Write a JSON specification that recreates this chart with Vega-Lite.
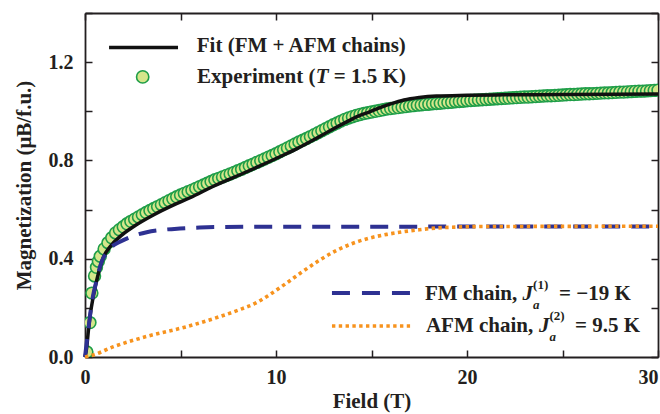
{
  "$schema": "https://vega.github.io/schema/vega-lite/v6.json",
  "width": 573,
  "height": 344,
  "autosize": {"type": "none"},
  "padding": {"left": 85, "top": 13, "right": 2, "bottom": 57},
  "background": "white",
  "config": {
    "view": {"stroke": null},
    "text": {"font": "Liberation Serif", "fontWeight": "bold", "color": "#231f20"}
  },
  "datasets": {
    "exp": [
      {"field": 0.1, "m": 0.02}, {"field": 0.26, "m": 0.14}, {"field": 0.36, "m": 0.26}, {"field": 0.5, "m": 0.33}, {"field": 0.6, "m": 0.365}, {"field": 0.7, "m": 0.39},
      {"field": 0.8, "m": 0.41}, {"field": 1.0, "m": 0.44}, {"field": 1.2, "m": 0.465}, {"field": 1.4, "m": 0.485}, {"field": 1.6, "m": 0.505}, {"field": 1.8, "m": 0.518},
      {"field": 2.0, "m": 0.53}, {"field": 2.2, "m": 0.542}, {"field": 2.4, "m": 0.552}, {"field": 2.6, "m": 0.561}, {"field": 2.8, "m": 0.57}, {"field": 3.0, "m": 0.579},
      {"field": 3.2, "m": 0.588}, {"field": 3.4, "m": 0.596}, {"field": 3.6, "m": 0.604}, {"field": 3.8, "m": 0.612}, {"field": 4.0, "m": 0.62}, {"field": 4.2, "m": 0.628},
      {"field": 4.4, "m": 0.636}, {"field": 4.6, "m": 0.644}, {"field": 4.8, "m": 0.652}, {"field": 5.0, "m": 0.659}, {"field": 5.2, "m": 0.666}, {"field": 5.4, "m": 0.673},
      {"field": 5.6, "m": 0.679}, {"field": 5.8, "m": 0.686}, {"field": 6.0, "m": 0.693}, {"field": 6.2, "m": 0.7}, {"field": 6.4, "m": 0.707}, {"field": 6.6, "m": 0.714},
      {"field": 6.8, "m": 0.721}, {"field": 7.0, "m": 0.727}, {"field": 7.2, "m": 0.733}, {"field": 7.4, "m": 0.739}, {"field": 7.6, "m": 0.745}, {"field": 7.8, "m": 0.751},
      {"field": 8.0, "m": 0.758}, {"field": 8.2, "m": 0.764}, {"field": 8.4, "m": 0.771}, {"field": 8.6, "m": 0.778}, {"field": 8.8, "m": 0.785}, {"field": 9.0, "m": 0.792},
      {"field": 9.2, "m": 0.799}, {"field": 9.4, "m": 0.806}, {"field": 9.6, "m": 0.813}, {"field": 9.8, "m": 0.82}, {"field": 10.0, "m": 0.827}, {"field": 10.2, "m": 0.835},
      {"field": 10.4, "m": 0.843}, {"field": 10.6, "m": 0.851}, {"field": 10.8, "m": 0.859}, {"field": 11.0, "m": 0.867}, {"field": 11.2, "m": 0.875}, {"field": 11.4, "m": 0.882},
      {"field": 11.6, "m": 0.889}, {"field": 11.8, "m": 0.897}, {"field": 12.0, "m": 0.905}, {"field": 12.2, "m": 0.913}, {"field": 12.4, "m": 0.921}, {"field": 12.6, "m": 0.929},
      {"field": 12.8, "m": 0.937}, {"field": 13.0, "m": 0.945}, {"field": 13.2, "m": 0.952}, {"field": 13.4, "m": 0.96}, {"field": 13.6, "m": 0.967}, {"field": 13.8, "m": 0.973},
      {"field": 14.0, "m": 0.978}, {"field": 14.2, "m": 0.983}, {"field": 14.4, "m": 0.987}, {"field": 14.6, "m": 0.991}, {"field": 14.8, "m": 0.994}, {"field": 15.0, "m": 0.997},
      {"field": 15.2, "m": 1.0}, {"field": 15.4, "m": 1.003}, {"field": 15.6, "m": 1.006}, {"field": 15.8, "m": 1.009}, {"field": 16.0, "m": 1.011}, {"field": 16.2, "m": 1.013},
      {"field": 16.4, "m": 1.015}, {"field": 16.6, "m": 1.017}, {"field": 16.8, "m": 1.019}, {"field": 17.0, "m": 1.021}, {"field": 17.2, "m": 1.023}, {"field": 17.4, "m": 1.025},
      {"field": 17.6, "m": 1.026}, {"field": 17.8, "m": 1.028}, {"field": 18.0, "m": 1.029}, {"field": 18.2, "m": 1.031}, {"field": 18.4, "m": 1.032}, {"field": 18.6, "m": 1.033},
      {"field": 18.8, "m": 1.035}, {"field": 19.0, "m": 1.036}, {"field": 19.2, "m": 1.037}, {"field": 19.4, "m": 1.039}, {"field": 19.6, "m": 1.04}, {"field": 19.8, "m": 1.041},
      {"field": 20.0, "m": 1.043}, {"field": 20.2, "m": 1.044}, {"field": 20.4, "m": 1.045}, {"field": 20.6, "m": 1.046}, {"field": 20.8, "m": 1.047}, {"field": 21.0, "m": 1.048},
      {"field": 21.2, "m": 1.049}, {"field": 21.4, "m": 1.05}, {"field": 21.6, "m": 1.051}, {"field": 21.8, "m": 1.052}, {"field": 22.0, "m": 1.053}, {"field": 22.2, "m": 1.054},
      {"field": 22.4, "m": 1.055}, {"field": 22.6, "m": 1.056}, {"field": 22.8, "m": 1.057}, {"field": 23.0, "m": 1.058}, {"field": 23.2, "m": 1.058}, {"field": 23.4, "m": 1.059},
      {"field": 23.6, "m": 1.06}, {"field": 23.8, "m": 1.061}, {"field": 24.0, "m": 1.062}, {"field": 24.2, "m": 1.063}, {"field": 24.4, "m": 1.063}, {"field": 24.6, "m": 1.064},
      {"field": 24.8, "m": 1.065}, {"field": 25.0, "m": 1.066}, {"field": 25.2, "m": 1.067}, {"field": 25.4, "m": 1.068}, {"field": 25.6, "m": 1.068}, {"field": 25.8, "m": 1.069},
      {"field": 26.0, "m": 1.07}, {"field": 26.2, "m": 1.071}, {"field": 26.4, "m": 1.071}, {"field": 26.6, "m": 1.072}, {"field": 26.8, "m": 1.073}, {"field": 27.0, "m": 1.074},
      {"field": 27.2, "m": 1.075}, {"field": 27.4, "m": 1.075}, {"field": 27.6, "m": 1.076}, {"field": 27.8, "m": 1.077}, {"field": 28.0, "m": 1.078}, {"field": 28.2, "m": 1.078},
      {"field": 28.4, "m": 1.079}, {"field": 28.6, "m": 1.08}, {"field": 28.8, "m": 1.081}, {"field": 29.0, "m": 1.082}, {"field": 29.2, "m": 1.082}, {"field": 29.4, "m": 1.083},
      {"field": 29.6, "m": 1.084}, {"field": 29.8, "m": 1.085}, {"field": 30.0, "m": 1.086}
    ],
    "fit": [
      {"field": 0, "m": 0}, {"field": 0.09, "m": 0.04}, {"field": 0.18, "m": 0.11}, {"field": 0.26, "m": 0.164}, {"field": 0.43, "m": 0.245},
      {"field": 0.7, "m": 0.34}, {"field": 0.96, "m": 0.405}, {"field": 1.31, "m": 0.449}, {"field": 1.83, "m": 0.49}, {"field": 2.53, "m": 0.53},
      {"field": 3.58, "m": 0.578}, {"field": 4.62, "m": 0.618}, {"field": 5.5, "m": 0.648}, {"field": 6.72, "m": 0.695}, {"field": 8.47, "m": 0.754},
      {"field": 10.2, "m": 0.815}, {"field": 11.1, "m": 0.848}, {"field": 11.95, "m": 0.883}, {"field": 12.8, "m": 0.92}, {"field": 13.7, "m": 0.957},
      {"field": 14.3, "m": 0.98}, {"field": 14.9, "m": 0.998}, {"field": 15.45, "m": 1.015}, {"field": 16.0, "m": 1.03}, {"field": 16.7, "m": 1.046},
      {"field": 17.5, "m": 1.056}, {"field": 18.4, "m": 1.062}, {"field": 20, "m": 1.065}, {"field": 21.9, "m": 1.067}, {"field": 25, "m": 1.068}, {"field": 30, "m": 1.07}
    ],
    "fm": [
      {"field": 0, "m": 0}, {"field": 0.17, "m": 0.11}, {"field": 0.35, "m": 0.218}, {"field": 0.61, "m": 0.313}, {"field": 0.87, "m": 0.388},
      {"field": 1.1, "m": 0.42}, {"field": 1.31, "m": 0.442}, {"field": 1.83, "m": 0.469}, {"field": 2.5, "m": 0.492}, {"field": 3.23, "m": 0.508},
      {"field": 4.0, "m": 0.517}, {"field": 4.97, "m": 0.523}, {"field": 6, "m": 0.527}, {"field": 7, "m": 0.529}, {"field": 9, "m": 0.53}, {"field": 30, "m": 0.531}
    ],
    "afm": [
      {"field": 0, "m": 0}, {"field": 0.3, "m": 0.005}, {"field": 1.5, "m": 0.042}, {"field": 3.2, "m": 0.083}, {"field": 5.3, "m": 0.123},
      {"field": 7, "m": 0.163}, {"field": 8.0, "m": 0.19}, {"field": 9.0, "m": 0.222}, {"field": 9.6, "m": 0.25}, {"field": 10.5, "m": 0.298}, {"field": 11.4, "m": 0.348},
      {"field": 12.3, "m": 0.395}, {"field": 13.2, "m": 0.435}, {"field": 14, "m": 0.462}, {"field": 14.9, "m": 0.484}, {"field": 15.8, "m": 0.499},
      {"field": 16.6, "m": 0.509}, {"field": 17.5, "m": 0.518}, {"field": 18.4, "m": 0.525}, {"field": 19.5, "m": 0.529}, {"field": 21, "m": 0.531}, {"field": 30, "m": 0.532}
    ]
  },
  "resolve": {"axis": {"x": "independent", "y": "independent"}},
  "layer": [
    {
      "data": {"name": "exp"},
      "mark": {"type": "point", "shape": "circle", "size": 140, "filled": true, "fill": "#d5e68b", "stroke": "#1f9e48", "strokeWidth": 1.6, "opacity": 1, "clip": true},
      "encoding": {
        "x": {"field": "field", "type": "quantitative", "scale": {"domain": [0, 30], "nice": false, "zero": false},
          "axis": {"orient": "bottom", "values": [0, 5, 10, 15, 20, 25, 30], "format": "d",
            "labelExpr": "datum.value % 10 == 0 ? datum.label : ''", "labelOverlap": false, "labelFlush": false,
            "labelAlign": {"expr": "datum.value == 30 ? 'right' : 'center'"},
            "tickSize": -7, "tickWidth": 1.5, "tickColor": "#231f20", "domainColor": "#231f20", "domainWidth": 1.8,
            "labelFont": "Liberation Serif", "labelFontSize": 20, "labelFontWeight": "bold", "labelColor": "#231f20", "labelPadding": 17,
            "grid": false, "title": "Field (T)", "titleFont": "Liberation Serif", "titleFontSize": 21, "titleFontWeight": "bold", "titleColor": "#231f20", "titlePadding": 3}},
        "y": {"field": "m", "type": "quantitative", "scale": {"domain": [0, 1.4], "nice": false, "zero": false},
          "axis": {"orient": "left", "values": [0, 0.2, 0.4, 0.6, 0.8, 1.0, 1.2, 1.4],
            "labelExpr": "round(datum.value*10) % 4 == 0 ? format(datum.value, '.1f') : ''", "labelOverlap": false, "labelFlush": false,
            "tickSize": -7, "tickWidth": 1.5, "tickColor": "#231f20", "domainColor": "#231f20", "domainWidth": 1.8,
            "labelFont": "Liberation Serif", "labelFontSize": 20, "labelFontWeight": "bold", "labelColor": "#231f20", "labelPadding": 19,
            "grid": false, "title": "Magnetization (μB/f.u.)", "titleFont": "Liberation Serif", "titleFontSize": 21, "titleFontWeight": "bold", "titleColor": "#231f20", "titlePadding": 14}}
      }
    },
    {
      "data": {"name": "fit"},
      "mark": {"type": "line", "color": "#111111", "strokeWidth": 3.5, "interpolate": "monotone"},
      "encoding": {
        "x": {"field": "field", "type": "quantitative",
          "axis": {"orient": "top", "values": [0, 5, 10, 15, 20, 25, 30], "labels": false, "title": null, "grid": false,
            "tickSize": -7, "tickWidth": 1.5, "tickColor": "#231f20", "domainColor": "#231f20", "domainWidth": 1.8}},
        "y": {"field": "m", "type": "quantitative",
          "axis": {"orient": "right", "values": [0, 0.2, 0.4, 0.6, 0.8, 1.0, 1.2, 1.4], "labels": false, "title": null, "grid": false,
            "tickSize": -7, "tickWidth": 1.5, "tickColor": "#231f20", "domainColor": "#231f20", "domainWidth": 1.8}}
      }
    },
    {
      "data": {"name": "fm"},
      "mark": {"type": "line", "color": "#2e3192", "strokeWidth": 4, "strokeDash": [18, 11], "interpolate": "monotone"},
      "encoding": {
        "x": {"field": "field", "type": "quantitative", "axis": null},
        "y": {"field": "m", "type": "quantitative", "axis": null}
      }
    },
    {
      "data": {"name": "afm"},
      "mark": {"type": "line", "color": "#f7931e", "strokeWidth": 3.6, "strokeDash": [3.4, 3.4], "interpolate": "monotone"},
      "encoding": {
        "x": {"field": "field", "type": "quantitative", "axis": null},
        "y": {"field": "m", "type": "quantitative", "axis": null}
      }
    },
    {
      "data": {"values": [{}]},
      "layer": [
        {"mark": {"type": "rule", "color": "#111111", "strokeWidth": 3.5},
         "encoding": {"x": {"datum": 1.26, "type": "quantitative", "axis": null}, "x2": {"datum": 4.87}, "y": {"datum": 1.26, "type": "quantitative", "axis": null}}},
        {"mark": {"type": "point", "shape": "circle", "size": 150, "filled": true, "fill": "#d5e68b", "stroke": "#1f9e48", "strokeWidth": 1.6, "opacity": 1},
         "encoding": {"x": {"datum": 3.02, "type": "quantitative", "axis": null}, "y": {"datum": 1.14, "type": "quantitative", "axis": null}}},
        {"mark": {"type": "text", "text": "Fit (FM + AFM chains)", "fontSize": 21, "align": "left", "baseline": "alphabetic"},
         "encoding": {"x": {"datum": 5.85, "type": "quantitative", "axis": null}, "y": {"datum": 1.241, "type": "quantitative", "axis": null}}},
        {"mark": {"type": "text", "text": "Experiment (", "fontSize": 21, "align": "left", "baseline": "alphabetic"},
         "encoding": {"x": {"datum": 5.87, "type": "quantitative", "axis": null}, "y": {"datum": 1.115, "type": "quantitative", "axis": null}}},
        {"mark": {"type": "text", "text": "T", "fontSize": 21, "fontStyle": "italic", "align": "left", "baseline": "alphabetic"},
         "encoding": {"x": {"datum": 12.08, "type": "quantitative", "axis": null}, "y": {"datum": 1.115, "type": "quantitative", "axis": null}}},
        {"mark": {"type": "text", "text": "= 1.5 K)", "fontSize": 21, "align": "left", "baseline": "alphabetic"},
         "encoding": {"x": {"datum": 13.03, "type": "quantitative", "axis": null}, "y": {"datum": 1.115, "type": "quantitative", "axis": null}}},
        {"mark": {"type": "rule", "color": "#2e3192", "strokeWidth": 4, "strokeDash": [18, 12]},
         "encoding": {"x": {"datum": 12.93, "type": "quantitative", "axis": null}, "x2": {"datum": 17.02}, "y": {"datum": 0.26, "type": "quantitative", "axis": null}}},
        {"mark": {"type": "rule", "color": "#f7931e", "strokeWidth": 3.6, "strokeDash": [3.4, 3.4]},
         "encoding": {"x": {"datum": 12.93, "type": "quantitative", "axis": null}, "x2": {"datum": 17.02}, "y": {"datum": 0.126, "type": "quantitative", "axis": null}}},
        {"mark": {"type": "text", "text": "FM chain,", "fontSize": 21, "align": "left", "baseline": "alphabetic"},
         "encoding": {"x": {"datum": 17.8, "type": "quantitative", "axis": null}, "y": {"datum": 0.232, "type": "quantitative", "axis": null}}},
        {"mark": {"type": "text", "text": "J", "fontSize": 21, "fontStyle": "italic", "align": "left", "baseline": "alphabetic"},
         "encoding": {"x": {"datum": 22.9, "type": "quantitative", "axis": null}, "y": {"datum": 0.232, "type": "quantitative", "axis": null}}},
        {"mark": {"type": "text", "text": "a", "fontSize": 13, "fontStyle": "italic", "align": "left", "baseline": "alphabetic"},
         "encoding": {"x": {"datum": 23.46, "type": "quantitative", "axis": null}, "y": {"datum": 0.195, "type": "quantitative", "axis": null}}},
        {"mark": {"type": "text", "text": "(1)", "fontSize": 13, "align": "left", "baseline": "alphabetic"},
         "encoding": {"x": {"datum": 23.46, "type": "quantitative", "axis": null}, "y": {"datum": 0.277, "type": "quantitative", "axis": null}}},
        {"mark": {"type": "text", "text": "= −19 K", "fontSize": 21, "align": "left", "baseline": "alphabetic"},
         "encoding": {"x": {"datum": 24.82, "type": "quantitative", "axis": null}, "y": {"datum": 0.232, "type": "quantitative", "axis": null}}},
        {"mark": {"type": "text", "text": "AFM chain,", "fontSize": 21, "align": "left", "baseline": "alphabetic"},
         "encoding": {"x": {"datum": 17.85, "type": "quantitative", "axis": null}, "y": {"datum": 0.103, "type": "quantitative", "axis": null}}},
        {"mark": {"type": "text", "text": "J", "fontSize": 21, "fontStyle": "italic", "align": "left", "baseline": "alphabetic"},
         "encoding": {"x": {"datum": 23.77, "type": "quantitative", "axis": null}, "y": {"datum": 0.103, "type": "quantitative", "axis": null}}},
        {"mark": {"type": "text", "text": "a", "fontSize": 13, "fontStyle": "italic", "align": "left", "baseline": "alphabetic"},
         "encoding": {"x": {"datum": 24.32, "type": "quantitative", "axis": null}, "y": {"datum": 0.065, "type": "quantitative", "axis": null}}},
        {"mark": {"type": "text", "text": "(2)", "fontSize": 13, "align": "left", "baseline": "alphabetic"},
         "encoding": {"x": {"datum": 24.32, "type": "quantitative", "axis": null}, "y": {"datum": 0.15, "type": "quantitative", "axis": null}}},
        {"mark": {"type": "text", "text": "= 9.5 K", "fontSize": 21, "align": "left", "baseline": "alphabetic"},
         "encoding": {"x": {"datum": 25.65, "type": "quantitative", "axis": null}, "y": {"datum": 0.103, "type": "quantitative", "axis": null}}}
      ]
    }
  ]
}
